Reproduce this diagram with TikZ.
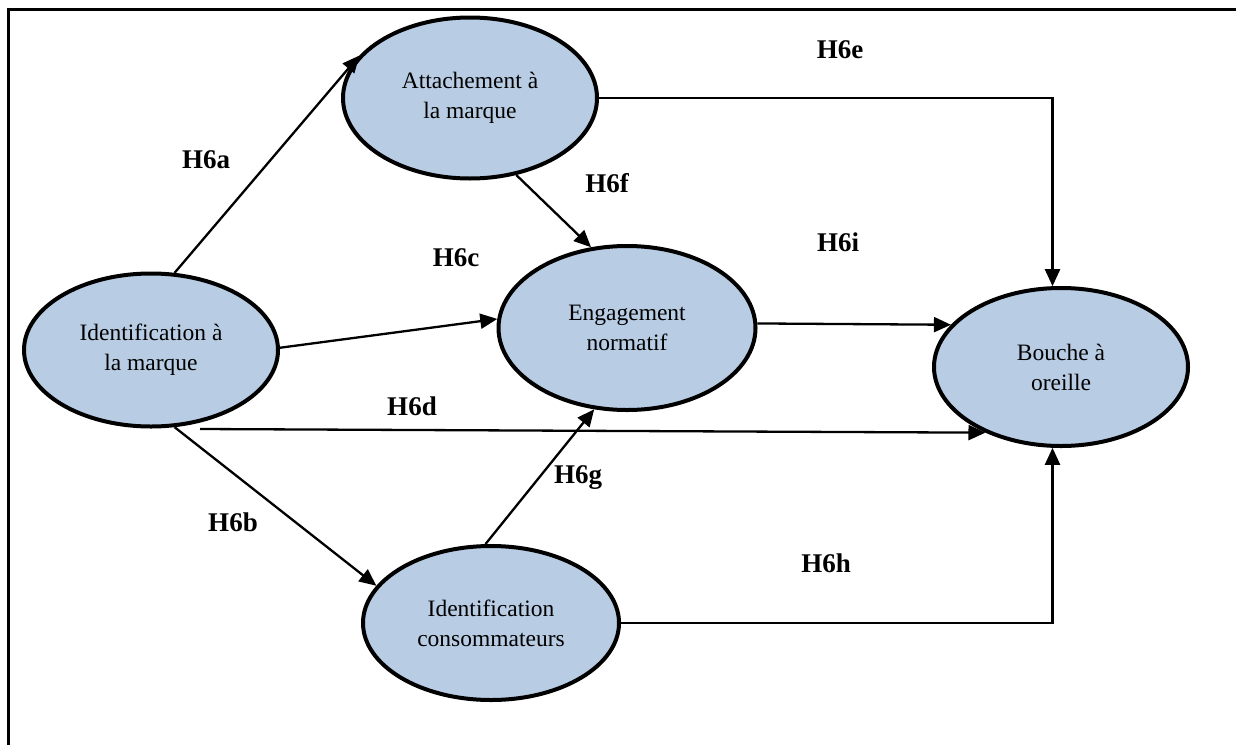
\documentclass[tikz,border=0pt]{standalone}
\usepackage{fontspec}
\setmainfont{Liberation Serif}
\usetikzlibrary{arrows.meta}
\usetikzlibrary{shapes.geometric}
\definecolor{lightblue}{RGB}{184,204,228}

\begin{document}
\begin{tikzpicture}[line join=miter,>={Triangle[length=17pt,width=15pt]},x=1pt,y=-1pt,
  construct/.style={ellipse,draw=black,line width=4pt,fill=lightblue,inner sep=0pt,align=center,font=\fontsize{23.5}{30}\selectfont},
  hyp/.style={font=\fontsize{27}{30}\selectfont\bfseries},
  link/.style={->,line width=2.3pt}]
\useasboundingbox (0,0) rectangle (1236,744);
\draw[line width=3pt] (8,760) |- (1240,9);
% constructs
\node[construct,minimum width=254,minimum height=161] (attach) at (470,98) {Attachement à\\la marque};
\node[construct,minimum width=254,minimum height=153] (idm) at (151,350) {Identification à\\la marque};
\node[construct,minimum width=257,minimum height=164] (eng) at (627,328) {Engagement\\normatif};
\node[construct,minimum width=254,minimum height=158] (bouche) at (1061,367) {Bouche à\\oreille};
\node[construct,minimum width=256,minimum height=154] (conso) at (491,623) {Identification\\consommateurs};
\coordinate (d0) at (200,429);
% hypotheses
\draw[link] (idm.73) -- (attach.159);
\draw[link] (idm.287) -- (conso.162);
\draw[link] (idm.1) -- (eng.176);
\draw[link] (d0) -- (bouche.221);
\draw[link] (attach.301) -- (eng.114);
\draw[link] (conso.94) -- (eng.248);
\draw[link] (eng.2) -- (bouche.159);
\draw[link] (attach.east) -| (bouche.96);
\draw[link] (conso.east) -| (bouche.264);
% labels
\node[hyp] (la) at (206,160) {H6a};
\node[hyp] (lb) at (233,522) {H6b};
\node[hyp] (lc) at (456,258) {H6c};
\node[hyp] (ld) at (412,406) {H6d};
\node[hyp] (le) at (840,50) {H6e};
\node[hyp] (lf) at (607,183) {H6f};
\node[hyp] (lg) at (578,478) {H6g};
\node[hyp] (lh) at (826,563) {H6h};
\node[hyp] (li) at (838,242) {H6i};
\end{tikzpicture}
\end{document}
